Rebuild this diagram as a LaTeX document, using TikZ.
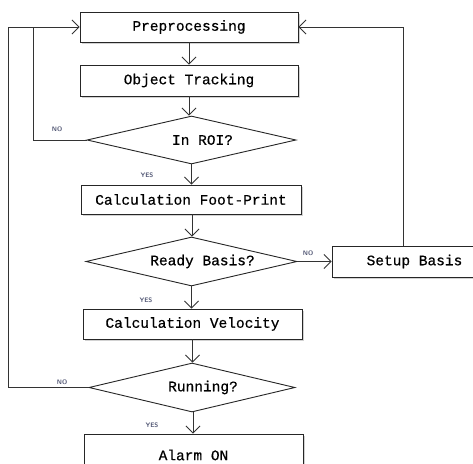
\documentclass[tikz,border=0pt]{standalone}
\usepackage{fontspec}
\setmonofont[FakeBold=0.5]{Liberation Mono}
\usetikzlibrary{shapes.geometric,arrows.meta,shadows}
\definecolor{lbl}{RGB}{80,85,115}
\begin{document}
\begin{tikzpicture}[x=1pt,y=-1pt,
  every node/.append style={font=\ttfamily\fontsize{14.5}{16}\selectfont},
  procbox/.style={draw=black!85, line width=0.9pt, fill=white, rectangle, inner sep=0pt,
    drop shadow={shadow xshift=2pt, shadow yshift=-2pt, opacity=0.35}},
  decbox/.style={draw=black!85, line width=0.9pt, fill=white, diamond, inner sep=0pt, aspect=4.35},
  flow/.style={draw=black!80, line width=0.9pt, -{Straight Barb[length=7pt,width=14pt,line width=0.9pt]}},
  plain/.style={draw=black!80, line width=0.9pt},
  tag/.style={font=\sffamily\bfseries\fontsize{6.5}{7}\selectfont, text=lbl, inner sep=0pt}]
\clip (0,0) rectangle (473,463);
\fill[white] (0,0) rectangle (473,463);

\node[procbox, minimum width=218, minimum height=30] (pre) at (189,27) {Preprocessing};
\node[procbox, minimum width=218, minimum height=31] (obj) at (189,80.5) {Object Tracking};
\node[decbox, minimum width=209, minimum height=48] (roi) at (191.5,140) {\hspace*{22pt}In ROI?};
\node[procbox, minimum width=220, minimum height=29] (foot) at (191,199.5) {Calculation Foot-Print};
\node[decbox, minimum width=211, minimum height=49] (ready) at (191.5,261.5) {\hspace*{22pt}Ready Basis?};
\node[procbox, minimum width=165, minimum height=31] (setup) at (414.5,261.5) {Setup Basis};
\node[procbox, minimum width=219, minimum height=30] (vel) at (192.5,324) {Calculation Velocity};
\node[decbox, minimum width=206, minimum height=49] (run) at (192,387.5) {\hspace*{22pt}Running?};
\node[procbox, minimum width=219, minimum height=42] (alarm) at (193.5,455) {Alarm ON};

\coordinate (outer) at (8,27);
\coordinate (inner) at (33,27);
\coordinate (rightc) at (403,27);

% main flow
\draw[flow] (pre.south) -- (pre.south |- obj.north);
\draw[flow] (obj.south) -- (obj.south |- roi.north);
\draw[flow] (roi.south) -- (roi.south |- foot.north);
\draw[flow] ([xshift=1pt]foot.south) -- ([xshift=1pt]foot.south |- ready.north);
\draw[flow] (ready.south) -- (ready.south |- vel.north);
\draw[flow] (vel.south) -- (vel.south |- run.north);
\draw[flow] ([xshift=1pt]run.south) -- ([xshift=1pt]run.south |- alarm.north);
\draw[flow] (ready.east) -- (setup.west);

% loops
\draw[plain] (roi.west) -| (inner);
\draw[flow] (run.west) -| (outer) -- (pre.west);
\draw[flow] (setup.north -| rightc) -- (rightc) -- (pre.east);

% labels
\node[tag] (n1) at (57,129) {NO};
\node[tag] (y1) at (147,175) {YES};
\node[tag] (n2) at (308,253) {NO};
\node[tag] (y2) at (146,300) {YES};
\node[tag] (n3) at (62,382) {NO};
\node[tag] (y3) at (152,425) {YES};
\end{tikzpicture}
\end{document}
